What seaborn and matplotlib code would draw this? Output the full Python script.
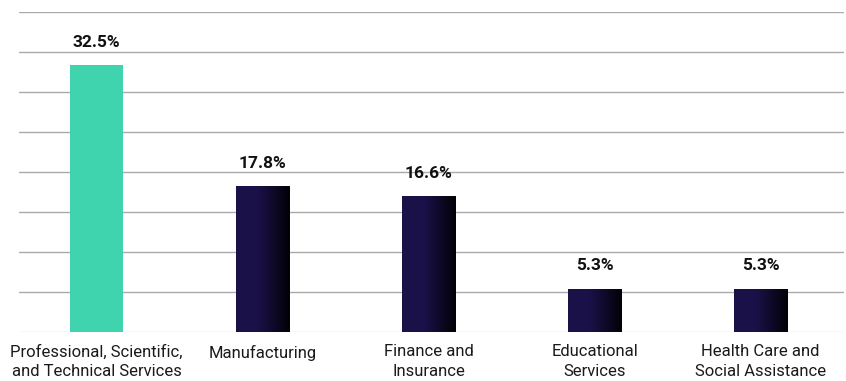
import numpy as np
import pandas as pd
import matplotlib
matplotlib.use("Agg")
import matplotlib.pyplot as plt
from matplotlib.colors import LinearSegmentedColormap
import seaborn as sns

categories = [
    "Professional, Scientific,\nand Technical Services",
    "Manufacturing",
    "Finance and\nInsurance",
    "Educational\nServices",
    "Health Care and\nSocial Assistance",
]
shares = [32.5, 17.8, 16.6, 5.3, 5.3]
bar_colors = ["#3fd4ae", "#1a1049", "#1a1049", "#1a1049", "#1a1049"]

df = pd.DataFrame({"industry": categories, "share": shares})

sns.set_theme(style="white")
plt.rcParams["font.family"] = ["Roboto", "DejaVu Sans"]

fig = plt.figure(figsize=(8.46, 3.81), dpi=100)
ax = fig.add_axes([19 / 846, 49 / 381, 825 / 846, 320 / 381])

sns.barplot(data=df, x="industry", y="share", hue="industry",
            palette=bar_colors, legend=False, width=0.32, ax=ax,
            saturation=1, edgecolor="none")

ymax = 39.0
xlim = (-0.467, 4.503)
ax.set_ylim(0, ymax)
ax.set_xlim(*xlim)
ax.set_yticks(np.linspace(0, ymax, 9))
ax.set_yticklabels([])
ax.yaxis.grid(True, color="#aaaaaa", linewidth=1)
ax.get_ygridlines()[0].set_color("#dddddd")
ax.set_axisbelow(True)
for s in ax.spines.values():
    s.set_visible(False)
ax.tick_params(axis="both", length=0)
ax.tick_params(axis="x", pad=9)
ax.set_xlabel("")
ax.set_ylabel("")
for lbl in ax.get_xticklabels():
    lbl.set_fontsize(12)
    lbl.set_color("#1a1a1a")
    lbl.set_linespacing(1.35)

# navy-to-black horizontal shading on the dark bars
shade = LinearSegmentedColormap.from_list(
    "navy_shade", [(0, "#1b1149"), (0.4, "#1b1149"), (1, "#020106")])
grad = np.linspace(0, 1, 256).reshape(1, -1)
for i, patch in enumerate(ax.patches):
    if i == 0:
        continue
    x0, y0 = patch.get_x(), patch.get_y()
    w, h = patch.get_width(), patch.get_height()
    im = ax.imshow(grad, cmap=shade, aspect="auto",
                   extent=[x0, x0 + w, y0, y0 + h], zorder=patch.get_zorder() + 0.1,
                   interpolation="bilinear")
    im.set_clip_path(patch)
ax.set_xlim(*xlim)
ax.set_ylim(0, ymax)

for i, v in enumerate(shares):
    ax.annotate(f"{v:.1f}%", xy=(i, v), xytext=(0, 11), textcoords="offset points",
                ha="center", va="bottom", fontsize=12.5, fontweight="bold",
                color="#111111")

fig.savefig("out.png", dpi=100)
